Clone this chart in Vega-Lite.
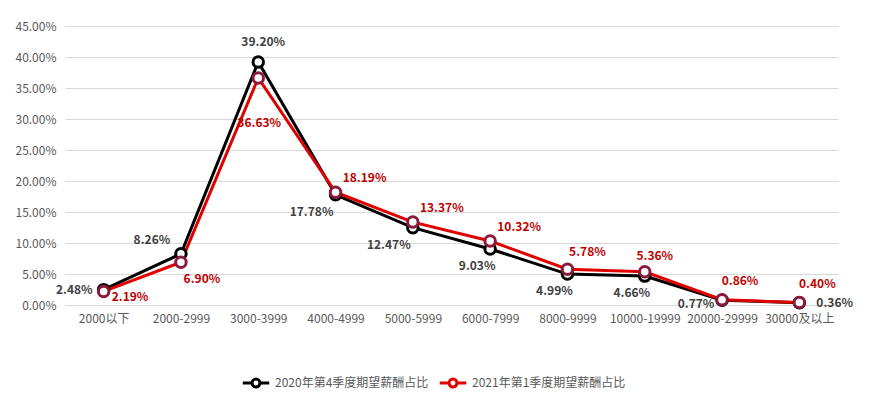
{
  "$schema": "https://vega.github.io/schema/vega-lite/v6.json",
  "width": 773,
  "height": 279,
  "padding": {"left": 14, "top": 20, "right": 20, "bottom": 5},
  "background": "white",
  "config": {
    "font": "Noto Sans CJK SC",
    "view": {"stroke": null},
    "axis": {"labelFont": "Noto Sans CJK SC", "labelColor": "#595959", "labelFontSize": 12, "ticks": false, "title": null},
    "legend": {"labelFont": "Noto Sans CJK SC", "labelColor": "#595959", "labelFontSize": 12}
  },
  "data": {
    "values": [
      {"cat": "2000以下", "series": "2020年第4季度期望薪酬占比", "value": 0.0248},
      {"cat": "2000-2999", "series": "2020年第4季度期望薪酬占比", "value": 0.0826},
      {"cat": "3000-3999", "series": "2020年第4季度期望薪酬占比", "value": 0.3920},
      {"cat": "4000-4999", "series": "2020年第4季度期望薪酬占比", "value": 0.1778},
      {"cat": "5000-5999", "series": "2020年第4季度期望薪酬占比", "value": 0.1247},
      {"cat": "6000-7999", "series": "2020年第4季度期望薪酬占比", "value": 0.0903},
      {"cat": "8000-9999", "series": "2020年第4季度期望薪酬占比", "value": 0.0499},
      {"cat": "10000-19999", "series": "2020年第4季度期望薪酬占比", "value": 0.0466},
      {"cat": "20000-29999", "series": "2020年第4季度期望薪酬占比", "value": 0.0077},
      {"cat": "30000及以上", "series": "2020年第4季度期望薪酬占比", "value": 0.0036},
      {"cat": "2000以下", "series": "2021年第1季度期望薪酬占比", "value": 0.0219},
      {"cat": "2000-2999", "series": "2021年第1季度期望薪酬占比", "value": 0.0690},
      {"cat": "3000-3999", "series": "2021年第1季度期望薪酬占比", "value": 0.3663},
      {"cat": "4000-4999", "series": "2021年第1季度期望薪酬占比", "value": 0.1819},
      {"cat": "5000-5999", "series": "2021年第1季度期望薪酬占比", "value": 0.1337},
      {"cat": "6000-7999", "series": "2021年第1季度期望薪酬占比", "value": 0.1032},
      {"cat": "8000-9999", "series": "2021年第1季度期望薪酬占比", "value": 0.0578},
      {"cat": "10000-19999", "series": "2021年第1季度期望薪酬占比", "value": 0.0536},
      {"cat": "20000-29999", "series": "2021年第1季度期望薪酬占比", "value": 0.0086},
      {"cat": "30000及以上", "series": "2021年第1季度期望薪酬占比", "value": 0.0040}
    ]
  },
  "encoding": {
    "x": {
      "field": "cat", "type": "nominal",
      "sort": ["2000以下", "2000-2999", "3000-3999", "4000-4999", "5000-5999", "6000-7999", "8000-9999", "10000-19999", "20000-29999", "30000及以上"],
      "scale": {"paddingInner": 0, "paddingOuter": 0.5},
      "axis": {"labelAngle": 0, "domain": true, "domainColor": "#d9d9d9", "grid": false, "labelPadding": 8}
    },
    "y": {
      "field": "value", "type": "quantitative",
      "scale": {"domain": [0, 0.45]},
      "axis": {"format": ".2%", "values": [0, 0.05, 0.1, 0.15, 0.2, 0.25, 0.3, 0.35, 0.4, 0.45], "domain": false, "gridColor": "#d9d9d9", "labelPadding": 9}
    }
  },
  "layer": [
    {
      "mark": {"type": "line", "strokeWidth": 3},
      "encoding": {
        "color": {
          "field": "series", "type": "nominal",
          "scale": {"range": ["#000000", "#e00000"]},
          "legend": {
            "orient": "none", "legendX": 176, "legendY": 342,
            "direction": "horizontal", "title": null,
            "symbolType": "M-1,0L-0.3,0M0.3,0L1,0M0.3,0A0.3,0.3 0 1 1 -0.3,0A0.3,0.3 0 1 1 0.3,0",
            "symbolStrokeWidth": 3, "symbolSize": 700, "symbolFillColor": "white",
            "columnPadding": 4, "labelOffset": 4
          }
        }
      }
    },
    {
      "mark": {"type": "point", "filled": true, "fill": "white", "size": 110, "strokeWidth": 3, "opacity": 1},
      "encoding": {
        "stroke": {"field": "series", "type": "nominal", "scale": {"range": ["#000000", "#8b1a3b"]}, "legend": null}
      }
    },
    {
      "transform": [{"filter": {"field": "series", "equal": "2020年第4季度期望薪酬占比"}}, {"filter": {"field": "cat", "equal": "2000以下"}}],
      "mark": {"type": "text", "fontWeight": "bold", "fontSize": 12, "color": "#404040", "align": "right", "dx": -11, "dy": 0},
      "encoding": {"text": {"field": "value", "format": ".2%"}}
    },
    {
      "transform": [{"filter": {"field": "series", "equal": "2020年第4季度期望薪酬占比"}}, {"filter": {"field": "cat", "equal": "2000-2999"}}],
      "mark": {"type": "text", "fontWeight": "bold", "fontSize": 12, "color": "#404040", "dx": -29, "dy": -14},
      "encoding": {"text": {"field": "value", "format": ".2%"}}
    },
    {
      "transform": [{"filter": {"field": "series", "equal": "2020年第4季度期望薪酬占比"}}, {"filter": {"field": "cat", "equal": "3000-3999"}}],
      "mark": {"type": "text", "fontWeight": "bold", "fontSize": 12, "color": "#404040", "dx": 5, "dy": -20},
      "encoding": {"text": {"field": "value", "format": ".2%"}}
    },
    {
      "transform": [{"filter": {"field": "series", "equal": "2020年第4季度期望薪酬占比"}}, {"filter": {"field": "cat", "oneOf": ["4000-4999", "5000-5999"]}}],
      "mark": {"type": "text", "fontWeight": "bold", "fontSize": 12, "color": "#404040", "dx": -24, "dy": 17},
      "encoding": {"text": {"field": "value", "format": ".2%"}}
    },
    {
      "transform": [{"filter": {"field": "series", "equal": "2020年第4季度期望薪酬占比"}}, {"filter": {"field": "cat", "oneOf": ["6000-7999", "8000-9999", "10000-19999"]}}],
      "mark": {"type": "text", "fontWeight": "bold", "fontSize": 12, "color": "#404040", "dx": -13, "dy": 17},
      "encoding": {"text": {"field": "value", "format": ".2%"}}
    },
    {
      "transform": [{"filter": {"field": "series", "equal": "2020年第4季度期望薪酬占比"}}, {"filter": {"field": "cat", "equal": "20000-29999"}}],
      "mark": {"type": "text", "fontWeight": "bold", "fontSize": 12, "color": "#404040", "dx": -26, "dy": 4},
      "encoding": {"text": {"field": "value", "format": ".2%"}}
    },
    {
      "transform": [{"filter": {"field": "series", "equal": "2020年第4季度期望薪酬占比"}}, {"filter": {"field": "cat", "equal": "30000及以上"}}],
      "mark": {"type": "text", "fontWeight": "bold", "fontSize": 12, "color": "#404040", "align": "left", "dx": 17, "dy": 0},
      "encoding": {"text": {"field": "value", "format": ".2%"}}
    },
    {
      "transform": [{"filter": {"field": "series", "equal": "2021年第1季度期望薪酬占比"}}, {"filter": {"field": "cat", "equal": "2000以下"}}],
      "mark": {"type": "text", "fontWeight": "bold", "fontSize": 12, "color": "#c00000", "align": "left", "dx": 8, "dy": 6},
      "encoding": {"text": {"field": "value", "format": ".2%"}}
    },
    {
      "transform": [{"filter": {"field": "series", "equal": "2021年第1季度期望薪酬占比"}}, {"filter": {"field": "cat", "equal": "2000-2999"}}],
      "mark": {"type": "text", "fontWeight": "bold", "fontSize": 12, "color": "#c00000", "dx": 21, "dy": 17},
      "encoding": {"text": {"field": "value", "format": ".2%"}}
    },
    {
      "transform": [{"filter": {"field": "series", "equal": "2021年第1季度期望薪酬占比"}}, {"filter": {"field": "cat", "equal": "3000-3999"}}],
      "mark": {"type": "text", "fontWeight": "bold", "fontSize": 12, "color": "#c00000", "dx": 1, "dy": 45},
      "encoding": {"text": {"field": "value", "format": ".2%"}}
    },
    {
      "transform": [{"filter": {"field": "series", "equal": "2021年第1季度期望薪酬占比"}}, {"filter": {"field": "cat", "oneOf": ["4000-4999", "5000-5999", "6000-7999"]}}],
      "mark": {"type": "text", "fontWeight": "bold", "fontSize": 12, "color": "#c00000", "dx": 29, "dy": -14},
      "encoding": {"text": {"field": "value", "format": ".2%"}}
    },
    {
      "transform": [{"filter": {"field": "series", "equal": "2021年第1季度期望薪酬占比"}}, {"filter": {"field": "cat", "equal": "8000-9999"}}],
      "mark": {"type": "text", "fontWeight": "bold", "fontSize": 12, "color": "#c00000", "dx": 20, "dy": -17},
      "encoding": {"text": {"field": "value", "format": ".2%"}}
    },
    {
      "transform": [{"filter": {"field": "series", "equal": "2021年第1季度期望薪酬占比"}}, {"filter": {"field": "cat", "equal": "10000-19999"}}],
      "mark": {"type": "text", "fontWeight": "bold", "fontSize": 12, "color": "#c00000", "dx": 10, "dy": -16},
      "encoding": {"text": {"field": "value", "format": ".2%"}}
    },
    {
      "transform": [{"filter": {"field": "series", "equal": "2021年第1季度期望薪酬占比"}}, {"filter": {"field": "cat", "oneOf": ["20000-29999", "30000及以上"]}}],
      "mark": {"type": "text", "fontWeight": "bold", "fontSize": 12, "color": "#c00000", "dx": 18, "dy": -19},
      "encoding": {"text": {"field": "value", "format": ".2%"}}
    }
  ]
}
